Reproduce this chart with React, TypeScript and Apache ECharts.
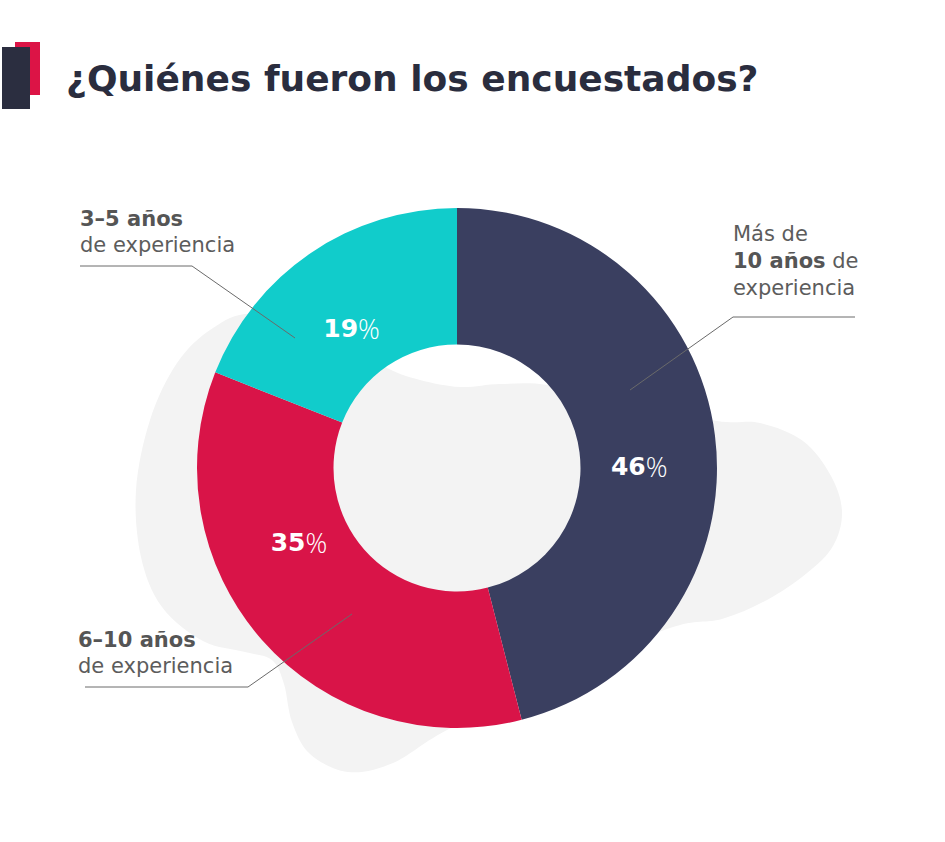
import React, { useEffect, useRef } from "react";
import * as echarts from "echarts";

// Survey respondents by years of experience
const categories = [
  "Más de 10 años de experiencia",
  "6–10 años de experiencia",
  "3–5 años de experiencia",
];
const shares = [46, 35, 19];
const sliceColors = ["#3a3f60", "#d91448", "#11cccb"];

// Callout text, one entry per category, line by line ({b|...} = bold)
const calloutLines = [
  ["Más de", "{b|10 años} de", "experiencia"],
  ["{b|6–10 años}", "de experiencia"],
  ["{b|3–5 años}", "de experiencia"],
];

const titleText = "¿Quiénes fueron los encuestados?";

const FONT = "'DejaVu Sans', 'Open Sans', sans-serif";

// Soft background shape behind the donut (outline points, smoothed below)
const blobOutline: [number, number][] = [
  [255, 314], [213, 328], [177, 363], [150, 420], [136, 490], [141, 557],
  [162, 607], [203, 641], [245, 652], [272, 660], [284, 684], [292, 722],
  [310, 754], [348, 772], [393, 763], [447, 730], [560, 675], [670, 628],
  [722, 619], [767, 600], [807, 573], [833, 546], [842, 512], [831, 476],
  [803, 441], [760, 423], [717, 421], [620, 402], [548, 385], [500, 384],
  [460, 387], [420, 380], [387, 368], [330, 336],
];

function smoothClosedPath(pts: [number, number][]): string {
  const n = pts.length;
  let d = `M${pts[0][0]} ${pts[0][1]}`;
  for (let i = 0; i < n; i++) {
    const p0 = pts[(i - 1 + n) % n];
    const p1 = pts[i];
    const p2 = pts[(i + 1) % n];
    const p3 = pts[(i + 2) % n];
    const c1x = p1[0] + (p2[0] - p0[0]) / 6;
    const c1y = p1[1] + (p2[1] - p0[1]) / 6;
    const c2x = p2[0] - (p3[0] - p1[0]) / 6;
    const c2y = p2[1] - (p3[1] - p1[1]) / 6;
    d += ` C${c1x.toFixed(1)} ${c1y.toFixed(1)} ${c2x.toFixed(1)} ${c2y.toFixed(1)} ${p2[0]} ${p2[1]}`;
  }
  return d + " Z";
}

echarts.graphic.registerShape(
  "bgBlob",
  echarts.graphic.extendPath(smoothClosedPath(blobOutline), {}) as any
);

// Nudges for the percentage labels inside the ring
const labelShifts: [number, number][] = [
  [-11, 23],
  [-12, -54],
  [4, 22],
];

// Leader lines and text anchors for each callout
const callouts = [
  { line: [[855, 317], [733, 317], [630, 390]], x: 733, y0: 234, step: 27 },
  { line: [[85, 687], [248, 687], [352, 614]], x: 78, y0: 640, step: 26 },
  { line: [[80, 266], [192, 266], [295, 338]], x: 80, y0: 219, step: 26 },
];

export default function App() {
  const ref = useRef<HTMLDivElement>(null);

  useEffect(() => {
    if (!ref.current) return;
    const chart = echarts.init(ref.current, null, { renderer: "svg" });

    const graphics: any[] = [
      { type: "bgBlob", z: 0, style: { fill: "#f3f3f3" } },
      { type: "rect", z: 1, shape: { x: 15, y: 42, width: 25, height: 53 }, style: { fill: "#dc1446" } },
      { type: "rect", z: 2, shape: { x: 2, y: 47, width: 28, height: 62 }, style: { fill: "#2b2e40" } },
      {
        type: "text",
        z: 5,
        x: 66,
        y: 78,
        style: {
          text: titleText,
          fill: "#2a2d3e",
          fontFamily: FONT,
          fontWeight: 700,
          fontSize: 36,
          verticalAlign: "middle",
        },
      },
    ];

    callouts.forEach((c, i) => {
      graphics.push({
        type: "polyline",
        z: 50,
        shape: { points: c.line },
        style: { stroke: "#6a6a6a", lineWidth: 1, fill: null },
      });
      calloutLines[i].forEach((txt, j) => {
        graphics.push({
          type: "text",
          z: 50,
          x: c.x,
          y: c.y0 + j * c.step,
          style: {
            text: txt,
            fill: "#5c5c5c",
            fontFamily: FONT,
            fontWeight: 400,
            fontSize: 21,
            verticalAlign: "middle",
            rich: {
              b: { fontFamily: FONT, fontWeight: 700, fontSize: 21, fill: "#555555" },
            },
          },
        });
      });
    });

    chart.setOption({
      animation: false,
      graphic: { elements: graphics },
      series: [
        {
          type: "pie",
          z: 10,
          center: [457, 468],
          radius: [123.5, 260],
          startAngle: 90,
          clockwise: true,
          silent: true,
          avoidLabelOverlap: false,
          itemStyle: { borderWidth: 0 },
          label: {
            show: true,
            position: "inside",
            formatter: (p: any) => `{b|${p.value}}{n|%}`,
            rich: {
              b: { fontFamily: FONT, fontWeight: 700, fontSize: 25, color: "#ffffff" },
              n: { fontFamily: "'Open Sans', sans-serif", fontWeight: 300, fontSize: 27, color: "#ffffff" },
            },
          },
          labelLine: { show: false },
          labelLayout: (params: any) => {
            const s = labelShifts[params.dataIndex];
            return { dx: s[0], dy: s[1] };
          },
          data: categories.map((name, i) => ({
            name,
            value: shares[i],
            itemStyle: { color: sliceColors[i] },
          })),
        },
      ],
    });

    return () => chart.dispose();
  }, []);

  return (
    <div
      ref={ref}
      style={{ position: "absolute", left: 0, top: 0, width: 945, height: 842, background: "#ffffff" }}
    />
  );
}
